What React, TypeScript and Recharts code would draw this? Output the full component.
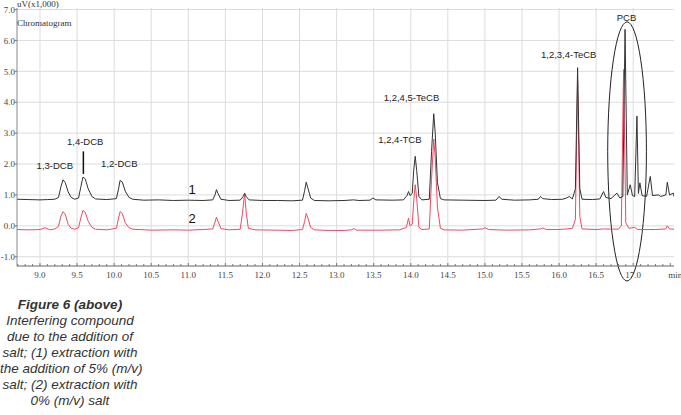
import React from 'react';
import {
  ComposedChart,
  Line,
  XAxis,
  YAxis,
  CartesianGrid,
  ReferenceLine,
  ReferenceDot,
  ReferenceArea,
} from 'recharts';

// Trace (1): extraction with 5% (m/v) salt  [time (min), signal (uV x1000)]
const trace1: [number, number][] = [
  [8.69, 0.86], [8.85, 0.85], [9.0, 0.84], [9.1, 0.85], [9.2, 0.86], [9.25, 0.92], [9.28, 1.25],
  [9.31, 1.49], [9.34, 1.4], [9.38, 1.1], [9.42, 0.92], [9.47, 0.86], [9.52, 0.9], [9.55, 1.25],
  [9.58, 1.58], [9.61, 1.52], [9.65, 1.2], [9.7, 0.95], [9.75, 0.87], [9.9, 0.85], [10.03, 0.88],
  [10.06, 1.2], [10.08, 1.47], [10.11, 1.42], [10.15, 1.12], [10.2, 0.92], [10.25, 0.86],
  [10.4, 0.83], [10.6, 0.84], [10.8, 0.82], [11.0, 0.83], [11.2, 0.82], [11.33, 0.84],
  [11.36, 1.0], [11.38, 1.17], [11.4, 1.05], [11.44, 0.86], [11.55, 0.82], [11.7, 0.83],
  [11.74, 0.95], [11.76, 1.05], [11.78, 0.95], [11.82, 0.84], [12.0, 0.82], [12.2, 0.82],
  [12.4, 0.81], [12.54, 0.83], [12.57, 1.15], [12.59, 1.41], [12.61, 1.25], [12.65, 0.9],
  [12.7, 0.82], [12.9, 0.81], [13.1, 0.82], [13.23, 0.84], [13.3, 0.82], [13.45, 0.83],
  [13.49, 0.9], [13.53, 0.84], [13.75, 0.83], [13.9, 0.84], [13.95, 0.98], [13.97, 1.11],
  [13.99, 0.98], [14.02, 1.05], [14.04, 1.8], [14.06, 2.25], [14.08, 1.8], [14.11, 0.95],
  [14.15, 0.84], [14.25, 0.86], [14.28, 2.4], [14.31, 3.63], [14.33, 3.0], [14.36, 1.4],
  [14.4, 0.88], [14.45, 0.84], [14.7, 0.83], [15.0, 0.82], [15.15, 0.83], [15.19, 0.95],
  [15.23, 0.86], [15.4, 0.83], [15.6, 0.84], [15.72, 0.86], [15.75, 0.95], [15.78, 0.88],
  [15.9, 0.85], [16.05, 0.86], [16.1, 0.9], [16.14, 0.95], [16.18, 0.87], [16.22, 1.2],
  [16.25, 5.12], [16.28, 1.2], [16.31, 0.86], [16.45, 0.85], [16.55, 0.87], [16.6, 1.11],
  [16.63, 0.92], [16.7, 0.88], [16.78, 1.06], [16.82, 0.9], [16.86, 0.95], [16.89, 6.36],
  [16.92, 1.0], [16.96, 1.33], [16.99, 0.98], [17.02, 0.95], [17.05, 3.55], [17.07, 1.05],
  [17.09, 1.39], [17.12, 0.98], [17.18, 0.95], [17.23, 1.6], [17.26, 0.98], [17.34, 1.0],
  [17.37, 0.95], [17.44, 1.0], [17.46, 1.41], [17.49, 1.0], [17.54, 1.06], [17.55, 0.95],
];

// Trace (2): extraction with 0% (m/v) salt
const trace2: [number, number][] = [
  [8.69, -0.12], [8.85, -0.13], [9.0, -0.12], [9.07, -0.06], [9.13, -0.13], [9.2, -0.1],
  [9.25, -0.02], [9.28, 0.3], [9.31, 0.46], [9.34, 0.38], [9.38, 0.05], [9.42, -0.08],
  [9.47, -0.11], [9.52, -0.06], [9.55, 0.25], [9.58, 0.5], [9.61, 0.44], [9.65, 0.15],
  [9.7, -0.05], [9.75, -0.11], [9.9, -0.13], [10.03, -0.08], [10.06, 0.25], [10.08, 0.46],
  [10.11, 0.4], [10.15, 0.1], [10.2, -0.06], [10.25, -0.11], [10.5, -0.14], [10.8, -0.13],
  [11.0, -0.14], [11.2, -0.12], [11.33, -0.1], [11.36, 0.12], [11.38, 0.28], [11.4, 0.15],
  [11.44, -0.09], [11.55, -0.13], [11.7, -0.11], [11.73, 0.4], [11.76, 1.06], [11.78, 0.45],
  [11.81, -0.08], [11.9, -0.13], [12.2, -0.14], [12.4, -0.15], [12.54, -0.12], [12.57, 0.15],
  [12.59, 0.4], [12.61, 0.28], [12.65, -0.05], [12.7, -0.13], [12.9, -0.15], [13.1, -0.15],
  [13.2, -0.13], [13.23, -0.09], [13.27, -0.14], [13.6, -0.14], [13.85, -0.13], [13.94, -0.05],
  [13.97, 0.25], [13.99, 0.0], [14.02, 0.05], [14.04, 0.8], [14.06, 1.33], [14.08, 0.9],
  [14.11, -0.05], [14.15, -0.12], [14.25, -0.1], [14.28, 1.5], [14.31, 2.81], [14.33, 2.2],
  [14.36, 0.6], [14.4, -0.08], [14.45, -0.13], [14.7, -0.14], [14.97, -0.1], [15.0, -0.06],
  [15.05, -0.12], [15.3, -0.14], [15.6, -0.13], [15.75, -0.1], [15.78, -0.07], [15.83, -0.12],
  [16.0, -0.12], [16.1, -0.1], [16.18, -0.08], [16.22, 0.2], [16.25, 4.7], [16.28, 0.3],
  [16.31, -0.1], [16.5, -0.12], [16.6, -0.1], [16.8, -0.11], [16.84, 0.0], [16.87, 5.06],
  [16.9, 0.1], [16.94, -0.08], [17.02, -0.05], [17.06, -0.12], [17.3, -0.12], [17.44, -0.1],
  [17.46, 0.0], [17.49, -0.1], [17.55, -0.11],
];

const yTicks = [-1, 0, 1, 2, 3, 4, 5, 6, 7];
const xGridValues = [9, 9.5, 10, 10.5, 11, 11.5, 12, 12.5, 13, 13.5, 14, 14.5, 15, 15.5, 16, 16.5, 17];
const xUnitLabel = 'min';
const xUnitAt = 17.5;

const peakLabels = [
  { t: 9.2, v: 1.95, text: '1,3-DCB' },
  { t: 9.61, v: 2.74, text: '1,4-DCB' },
  { t: 10.07, v: 2.01, text: '1,2-DCB' },
  { t: 13.854, v: 2.79, text: '1,2,4-TCB' },
  { t: 14.01, v: 4.16, text: '1,2,4,5-TeCB' },
  { t: 16.13, v: 5.55, text: '1,2,3,4-TeCB' },
  { t: 16.91, v: 6.74, text: 'PCB' },
];
const traceLabels = [
  { t: 11.05, v: 1.19, text: '1' },
  { t: 11.05, v: 0.25, text: '2' },
];

const captionLines = [
  'Interfering compound',
  'due to the addition of',
  'salt; (1) extraction with',
  'the addition of 5% (m/v)',
  'salt; (2) extraction with',
  '0% (m/v) salt',
];

const X_MIN = 8.69;
const X_MAX = 17.55;
const Y_MIN = -1.3;
const Y_MAX = 7.05;

const data1 = trace1.map(([t, v]) => ({ t, v }));
const data2 = trace2.map(([t, v]) => ({ t, v }));

const minorTicks: number[] = [];
for (let i = 87; i <= 175; i++) minorTicks.push(i / 10);

const serif = '"Liberation Serif", "Times New Roman", serif';
const sans = '"Liberation Sans", Arial, sans-serif';

const XTick = (props: any) => {
  const { x, y, payload } = props;
  const v = Math.round(payload.value * 10) / 10;
  const isMajor = Math.abs(v * 2 - Math.round(v * 2)) < 1e-6;
  let label: string | null = null;
  if (Math.abs(v - xUnitAt) < 1e-6) label = xUnitLabel;
  else if (isMajor) label = v.toFixed(1);
  return (
    <g>
      <line x1={x} x2={x} y1={y} y2={y - (isMajor ? 3 : 2)} stroke="#777" strokeWidth={1} />
      {label && (
        <text
          x={label === xUnitLabel ? x + 5 : x}
          y={y + 12}
          textAnchor="middle"
          fontSize={9}
          fontFamily={serif}
          fill="#444"
        >
          {label}
        </text>
      )}
    </g>
  );
};

const EllipseShape = (props: any) => {
  const { x, y, width, height } = props;
  return (
    <ellipse
      cx={x + width / 2}
      cy={y + height / 2}
      rx={width / 2}
      ry={height / 2}
      fill="none"
      stroke="#222"
      strokeWidth={1}
    />
  );
};

export default function App() {
  return (
    <div
      style={{
        position: 'absolute',
        left: 0,
        top: 0,
        width: 681,
        height: 415,
        background: '#fff',
        overflow: 'hidden',
      }}
    >
      <ComposedChart
        width={681}
        height={415}
        margin={{ top: 8, right: 7, bottom: 129, left: 0 }}
        style={{ position: 'absolute', left: 0, top: 0 }}
      >
        <CartesianGrid
          stroke="#dcdcdc"
          strokeWidth={1}
          verticalValues={xGridValues}
          horizontalValues={yTicks}
        />
        <XAxis
          dataKey="t"
          type="number"
          domain={[X_MIN, X_MAX]}
          allowDataOverflow
          ticks={minorTicks}
          interval={0}
          tick={<XTick />}
          tickLine={false}
          tickSize={0}
          tickMargin={0}
          height={20}
          axisLine={{ stroke: '#666', strokeWidth: 1 }}
        />
        <XAxis
          xAxisId="top"
          orientation="top"
          type="number"
          domain={[X_MIN, X_MAX]}
          allowDataOverflow
          tick={false}
          tickLine={false}
          height={0}
          axisLine={{ stroke: '#444', strokeWidth: 1.5 }}
        />
        <YAxis
          type="number"
          domain={[Y_MIN, Y_MAX]}
          allowDataOverflow
          ticks={yTicks}
          interval={0}
          width={17}
          tickSize={2}
          tickMargin={0}
          tickFormatter={(v: number) => v.toFixed(1)}
          tick={{ fontSize: 9, fontFamily: serif, fill: '#444' }}
          tickLine={{ stroke: '#777' }}
          axisLine={{ stroke: '#888', strokeWidth: 1 }}
        />
        <YAxis
          yAxisId="right"
          orientation="right"
          type="number"
          domain={[Y_MIN, Y_MAX]}
          tick={false}
          tickLine={false}
          width={0}
          axisLine={{ stroke: '#999', strokeWidth: 1 }}
        />
        <Line
          data={data2}
          dataKey="v"
          type="linear"
          stroke="#ee4a62"
          strokeWidth={1}
          dot={false}
          activeDot={false}
          isAnimationActive={false}
        />
        <Line
          data={data1}
          dataKey="v"
          type="linear"
          stroke="#333"
          strokeWidth={1}
          dot={false}
          activeDot={false}
          isAnimationActive={false}
        />
        <ReferenceLine
          segment={[
            { x: 9.585, y: 1.68 },
            { x: 9.585, y: 2.41 },
          ]}
          stroke="#111"
          strokeWidth={1.5}
          ifOverflow="visible"
        />
        <ReferenceArea
          x1={16.656}
          x2={17.178}
          y1={-1.786}
          y2={6.6}
          ifOverflow="visible"
          shape={<EllipseShape />}
        />
        {peakLabels.map((p) => (
          <ReferenceDot
            key={p.text}
            x={p.t}
            y={p.v}
            r={0}
            fill="none"
            stroke="none"
            ifOverflow="visible"
            label={{
              value: p.text,
              position: 'center',
              fontSize: 9.5,
              fontFamily: sans,
              fill: '#222',
            }}
          />
        ))}
        {traceLabels.map((p) => (
          <ReferenceDot
            key={'tr' + p.text}
            x={p.t}
            y={p.v}
            r={0}
            fill="none"
            stroke="none"
            ifOverflow="visible"
            label={{
              value: p.text,
              position: 'center',
              fontSize: 13,
              fontFamily: sans,
              fill: '#111',
            }}
          />
        ))}
      </ComposedChart>
      <div
        style={{
          position: 'absolute',
          left: 17,
          top: -1,
          fontFamily: serif,
          fontSize: 9,
          lineHeight: '10px',
          color: '#333',
          whiteSpace: 'nowrap',
        }}
      >
        uV(x1,000)
      </div>
      <div
        style={{
          position: 'absolute',
          left: 17,
          top: 18,
          fontFamily: serif,
          fontSize: 9,
          lineHeight: '10px',
          color: '#333',
          whiteSpace: 'nowrap',
        }}
      >
        Chromatogram
      </div>
      <div
        style={{
          position: 'absolute',
          left: 0,
          top: 297,
          width: 140,
          textAlign: 'center',
          fontFamily: sans,
          fontStyle: 'italic',
          fontSize: 13.5,
          lineHeight: '16px',
          color: '#333',
          whiteSpace: 'nowrap',
        }}
      >
        <div style={{ fontWeight: 'bold' }}>Figure 6 (above)</div>
        {captionLines.map((l) => (
          <div key={l}>{l}</div>
        ))}
      </div>
    </div>
  );
}
